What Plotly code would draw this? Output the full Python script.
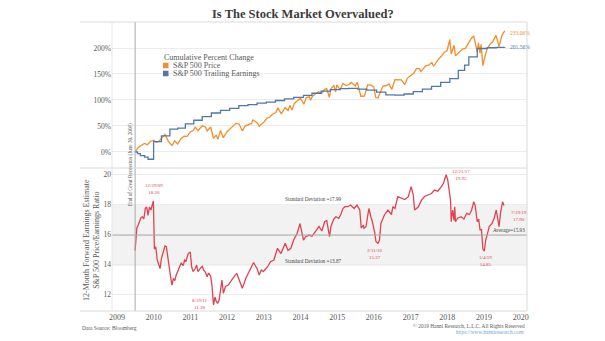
import plotly.graph_objects as go
from plotly.subplots import make_subplots

# ---------------- data ----------------
# S&P 500 price, cumulative % change since the end of the recession
price_dates = [
    "2009-06-30", "2009-07-31", "2009-08-28", "2009-09-30", "2009-10-30", "2009-11-30", "2009-12-31",
    "2010-01-29", "2010-02-26", "2010-03-31", "2010-04-23", "2010-05-28", "2010-07-02", "2010-07-30",
    "2010-08-27", "2010-09-30", "2010-10-29", "2010-11-30", "2010-12-31",
    "2011-01-31", "2011-02-18", "2011-03-18", "2011-04-29", "2011-05-31", "2011-06-17", "2011-07-22",
    "2011-08-19", "2011-09-16", "2011-09-30", "2011-10-07", "2011-10-28", "2011-11-25", "2011-12-30",
    "2012-01-31", "2012-02-29", "2012-03-30", "2012-04-30", "2012-06-01", "2012-06-29", "2012-07-31",
    "2012-08-31", "2012-09-14", "2012-10-31", "2012-11-16", "2012-12-31",
    "2013-01-31", "2013-02-28", "2013-03-28", "2013-04-30", "2013-05-21", "2013-06-24", "2013-07-31",
    "2013-08-30", "2013-09-18", "2013-10-08", "2013-10-31", "2013-11-29", "2013-12-31",
    "2014-02-03", "2014-02-28", "2014-03-31", "2014-04-11", "2014-04-30", "2014-05-30", "2014-06-30",
    "2014-07-31", "2014-08-29", "2014-09-19", "2014-10-15", "2014-10-31", "2014-11-28", "2014-12-16",
    "2014-12-29",
    "2015-01-30", "2015-02-27", "2015-03-31", "2015-04-30", "2015-05-21", "2015-06-30", "2015-07-20",
    "2015-08-25", "2015-09-29", "2015-10-30", "2015-11-30", "2015-12-31",
    "2016-01-20", "2016-02-11", "2016-03-31", "2016-04-29", "2016-05-31", "2016-06-27", "2016-07-29",
    "2016-08-31", "2016-09-30", "2016-11-04", "2016-11-30", "2016-12-30",
    "2017-01-31", "2017-02-28", "2017-03-31", "2017-04-13", "2017-05-31", "2017-06-30", "2017-07-31",
    "2017-08-18", "2017-09-29", "2017-10-31", "2017-11-30", "2017-12-29",
    "2018-01-26", "2018-02-09", "2018-02-28", "2018-03-09", "2018-03-23", "2018-04-30", "2018-05-31",
    "2018-06-29", "2018-07-31", "2018-08-31", "2018-09-21", "2018-10-26", "2018-11-07", "2018-11-23",
    "2018-12-03", "2018-12-21", "2018-12-31",
    "2019-01-31", "2019-02-28", "2019-03-29", "2019-04-30", "2019-05-31", "2019-06-28", "2019-07-26",
]
price_pct = [
    0.0, 8.7, 12.4, 16.4, 14.1, 20.7, 22.8,
    18.2, 21.5, 28.7, 34.0, 19.9, 12.5, 21.3,
    15.5, 25.6, 30.2, 30.0, 38.5,
    41.6, 47.9, 40.8, 50.2, 48.1, 40.3, 48.0,
    26.0, 33.0, 24.5, 27.6, 41.5, 27.6, 38.5,
    44.4, 50.4, 55.0, 53.9, 40.7, 49.9, 51.8,
    54.9, 61.4, 55.5, 49.6, 57.0,
    64.9, 66.8, 72.7, 75.9, 84.8, 73.2, 85.6,
    79.8, 90.0, 80.5, 93.4, 98.8, 103.5,
    91.8, 104.7, 106.1, 99.6, 107.4, 111.8, 115.8,
    112.6, 120.5, 122.1, 105.0, 122.2, 127.7, 115.9,
    129.0,
    119.6, 131.7, 127.7, 129.7, 133.8, 127.1, 134.0,
    107.2, 107.4, 128.9, 129.0, 125.0,
    104.7, 104.0, 126.8, 127.4, 130.9, 120.3, 139.3,
    139.0, 138.7, 129.5, 142.1, 146.5,
    150.9, 160.3, 160.2, 154.5, 165.6, 166.8, 171.9,
    164.9, 177.3, 183.5, 191.5, 194.4,
    216.3, 188.5, 198.8, 205.2, 184.9, 191.5, 197.8,
    199.2, 210.0, 219.5, 222.6, 192.7, 209.8, 189.9,
    207.2, 166.1, 176.0,
    197.7, 206.5, 212.0, 224.3, 203.0, 223.9, 233.06,
]

# S&P 500 trailing earnings, cumulative % change (quarterly steps)
earn_dates = [
    "2009-06-30", "2009-07-24", "2009-08-21", "2009-10-02", "2009-11-06", "2009-12-31",
    "2010-03-19", "2010-06-11", "2010-08-27", "2010-11-12",
    "2011-02-04", "2011-04-29", "2011-07-29", "2011-10-28",
    "2012-01-27", "2012-04-27", "2012-07-27", "2012-10-26",
    "2013-01-25", "2013-04-26", "2013-07-26", "2013-10-25",
    "2014-01-31", "2014-04-25", "2014-07-25", "2014-10-24",
    "2015-01-30", "2015-04-24", "2015-07-24", "2015-10-23",
    "2016-01-29", "2016-04-29", "2016-07-29", "2016-10-28",
    "2017-01-27", "2017-04-28", "2017-07-28", "2017-10-27",
    "2018-01-26", "2018-04-20", "2018-06-22", "2018-08-03", "2018-10-26",
    "2019-02-01", "2019-05-03", "2019-07-26",
]
earn_pct = [
    0.0, -3.0, -7.0, -10.0, -14.0, 20.0,
    31.0, 44.0, 46.0, 54.0,
    61.0, 68.0, 75.0, 80.0,
    84.0, 89.0, 91.0, 94.0,
    96.0, 99.0, 102.0, 105.0,
    109.0, 113.0, 117.0, 120.0,
    122.0, 122.5, 121.0, 119.0,
    115.0, 110.0, 109.5, 111.5,
    116.0, 121.0, 126.0, 134.0,
    141.0, 157.0, 167.0, 183.0, 199.0,
    200.5, 201.2, 201.56,
]

# 12-month forward P/E ratio of the S&P 500
pe_dates = [
    "2009-06-30", "2009-07-10", "2009-07-17", "2009-07-31", "2009-08-14", "2009-08-28", "2009-09-11",
    "2009-09-25", "2009-10-09", "2009-10-23", "2009-11-06", "2009-11-20", "2009-12-04", "2009-12-18",
    "2009-12-29",
    "2010-01-08", "2010-01-22", "2010-02-05", "2010-02-19", "2010-03-05", "2010-03-19", "2010-04-02",
    "2010-04-23", "2010-05-07", "2010-05-21", "2010-06-04", "2010-06-18", "2010-07-02", "2010-07-16",
    "2010-07-30", "2010-08-13", "2010-09-10", "2010-10-01", "2010-10-22", "2010-11-05", "2010-11-19",
    "2010-12-10", "2010-12-31",
    "2011-01-14", "2011-01-28", "2011-02-18", "2011-03-04", "2011-03-18", "2011-04-08", "2011-04-29",
    "2011-05-13", "2011-05-27", "2011-06-17", "2011-07-01", "2011-07-22", "2011-08-05", "2011-08-19",
    "2011-09-02", "2011-09-16", "2011-09-30", "2011-10-14", "2011-10-28", "2011-11-11", "2011-11-25",
    "2011-12-16",
    "2012-01-13", "2012-02-03", "2012-03-09", "2012-04-06", "2012-05-11", "2012-06-01", "2012-07-06",
    "2012-08-10", "2012-09-21", "2012-10-12", "2012-10-26", "2012-11-16", "2012-12-07", "2012-12-28",
    "2013-01-11", "2013-02-08", "2013-03-08", "2013-04-12", "2013-04-26", "2013-05-17", "2013-06-21",
    "2013-07-19", "2013-08-02", "2013-08-30", "2013-09-27", "2013-10-25", "2013-11-29", "2013-12-27",
    "2014-01-31", "2014-02-21", "2014-03-28", "2014-04-25", "2014-05-30", "2014-07-04", "2014-08-01",
    "2014-08-29", "2014-09-19", "2014-10-10", "2014-10-17", "2014-10-31", "2014-11-28", "2014-12-19",
    "2015-01-16", "2015-02-06", "2015-02-27", "2015-03-20", "2015-04-17", "2015-05-15", "2015-06-19",
    "2015-07-17", "2015-08-14", "2015-08-28", "2015-09-18", "2015-09-25", "2015-10-16", "2015-10-30",
    "2015-11-13", "2015-12-04", "2015-12-18",
    "2016-01-08", "2016-01-22", "2016-02-11", "2016-02-26", "2016-03-11", "2016-04-15", "2016-05-20",
    "2016-06-24", "2016-07-08", "2016-07-29", "2016-08-26", "2016-09-30", "2016-11-04", "2016-12-09",
    "2017-01-06", "2017-01-27", "2017-02-10", "2017-03-17", "2017-04-21", "2017-05-19", "2017-06-23",
    "2017-07-28", "2017-08-25", "2017-09-29", "2017-11-03", "2017-11-24", "2017-12-08", "2017-12-21",
    "2018-01-05", "2018-01-19", "2018-02-02", "2018-02-09", "2018-02-23", "2018-03-09", "2018-03-16",
    "2018-03-23", "2018-04-13", "2018-05-18", "2018-06-15", "2018-07-13", "2018-08-10", "2018-08-31",
    "2018-09-21", "2018-10-05", "2018-10-12", "2018-10-26", "2018-11-09", "2018-11-23", "2018-12-07",
    "2018-12-14", "2018-12-21",
    "2019-01-04", "2019-01-18", "2019-02-01", "2019-02-22", "2019-03-22", "2019-04-12", "2019-05-03",
    "2019-05-17", "2019-05-31", "2019-06-14", "2019-07-05", "2019-07-19",
]
pe_values = [
    14.9, 15.6, 16.4, 16.6, 16.8, 17.1, 17.15,
    17.0, 17.7, 17.8, 17.25, 17.8, 17.6, 17.9,
    18.20,
    15.0, 15.15, 14.27, 13.93, 13.7, 14.38, 14.8,
    15.2, 15.15, 14.27, 13.82, 13.15, 12.6, 13.05,
    12.9, 13.27, 13.7, 14.05, 13.9, 14.27, 14.2,
    14.7, 14.8,
    13.8, 13.5, 13.7, 13.93, 13.5, 13.7, 13.85,
    13.6, 13.5, 13.15, 13.4, 13.2, 12.5, 11.28,
    11.8, 11.5, 11.4, 11.6, 12.2, 12.93, 12.05,
    12.5,
    12.6, 12.82, 13.15, 13.38, 12.82, 12.38, 13.05,
    13.5, 14.1, 13.85, 13.7, 13.27, 13.6, 13.5,
    13.6, 13.82, 14.15, 14.27, 14.6, 15.05, 14.7,
    15.15, 15.38, 14.9, 15.05, 15.6, 16.05, 16.7,
    15.6, 15.82, 15.93, 15.85, 16.15, 16.5, 16.2,
    16.82, 16.9, 16.2, 15.82, 16.5, 17.0, 17.15,
    17.05, 17.3, 17.7, 17.82, 17.82, 17.93, 17.7,
    17.93, 17.6, 16.4, 16.6, 16.38, 16.5, 17.15,
    17.7, 17.1, 16.8,
    16.15, 15.5, 15.37, 15.6, 16.7, 17.27, 17.6,
    17.3, 17.82, 17.7, 18.49, 18.4, 18.3, 18.49,
    19.16, 18.6, 17.6, 17.8, 18.27, 18.5, 18.6,
    18.7, 18.93, 18.85, 19.16, 19.38, 19.7, 19.95,
    19.6, 18.7, 18.27, 16.82, 17.6, 16.9, 17.82,
    16.82, 17.05, 17.15, 17.0, 17.38, 17.3, 17.6,
    18.15, 17.9, 17.38, 16.82, 17.0, 16.27, 16.3,
    15.49, 15.0,
    14.85, 15.6, 15.93, 16.49, 16.7, 17.05, 17.6,
    17.15, 16.49, 17.38, 18.15, 17.90,
]

pe_average = 15.93
pe_sd_high = 17.99
pe_sd_low = 13.87
recession_end = "2009-06-30"

# P/E points that carry a date/value callout
pe_callouts = ["2009-12-29", "2011-08-19", "2016-02-11", "2017-12-21", "2019-01-04", "2019-07-19"]

year_ticks = list(range(2009, 2021))
pct_ticks = [0, 50, 100, 150, 200]
pe_ticks = [12, 14, 16, 18, 20]

# ---------------- styling ----------------
ORANGE = "#F28E2B"
BLUE = "#4E79A7"
RED = "#DE4450"
GRID = "#ECECEC"
FRAME = "#DADADA"
TEXT = "#595959"
SERIF = "Liberation Serif, Times New Roman, serif"

W, H = 605, 341
L, R, T, B = 112, 527, 22, 311   # plot-area edges, pixels
SPLIT = 168                      # boundary between the two panels


def fx(x):
    return (x - L) / (R - L)


def fy(y):
    return (B - y) / (B - T)


fig = make_subplots(rows=2, cols=1, shared_xaxes=True, vertical_spacing=0)

fig.add_trace(go.Scatter(x=price_dates, y=price_pct, mode="lines", name="S&P 500 Price",
                         line=dict(color=ORANGE, width=1.3)), row=1, col=1)
fig.add_trace(go.Scatter(x=earn_dates, y=earn_pct, mode="lines", name="S&P 500 Trailing Earnings",
                         line=dict(color=BLUE, width=1.3, shape="hv")), row=1, col=1)
fig.add_trace(go.Scatter(x=pe_dates, y=pe_values, mode="lines", name="Forward P/E",
                         line=dict(color=RED, width=1.3)), row=2, col=1)

axis_font = dict(family=SERIF, size=7.5, color=TEXT)
fig.update_layout(
    width=W, height=H,
    margin=dict(l=L, r=W - R, t=T, b=H - B),
    paper_bgcolor="white", plot_bgcolor="white",
    showlegend=False,
    font=dict(family=SERIF, color=TEXT),
    xaxis=dict(type="date", range=["2008-11-12", "2020-03-04"], showticklabels=False,
               showgrid=False, zeroline=False, showline=False, ticks=""),
    xaxis2=dict(type="date", range=["2008-11-12", "2020-03-04"],
                tickvals=[f"{y}-01-01" for y in year_ticks], ticktext=[str(y) for y in year_ticks],
                tickfont=dict(family=SERIF, size=8, color=TEXT),
                showgrid=False, zeroline=False, showline=False, ticks=""),
    yaxis=dict(domain=[fy(SPLIT), 1], range=[-30.8, 250], tickvals=pct_ticks,
               ticktext=[f"{v}%" for v in pct_ticks], tickfont=axis_font,
               gridcolor=GRID, zeroline=False, showline=False, ticks=""),
    yaxis2=dict(domain=[0, fy(SPLIT)], range=[10.87, 20.4], tickvals=pe_ticks,
                tickfont=axis_font, gridcolor=GRID, zeroline=False, showline=False, ticks=""),
)

shapes = []
# standard-deviation band and average line
shapes.append(dict(type="rect", xref="paper", yref="y2", x0=0, x1=1, y0=pe_sd_low, y1=pe_sd_high,
                   fillcolor="#F2F2F2", line=dict(width=0), layer="below"))
shapes.append(dict(type="line", xref="paper", yref="y2", x0=0, x1=1, y0=pe_average, y1=pe_average,
                   line=dict(color="#A8A8A8", width=1)))
# recession marker
shapes.append(dict(type="line", xref="x", yref="paper", x0=recession_end, x1=recession_end, y0=0, y1=1,
                   line=dict(color="#A9A9A9", width=1)))
# frame
for y in (T, SPLIT, B):
    shapes.append(dict(type="line", xref="paper", yref="paper", x0=fx(80), x1=fx(R), y0=fy(y), y1=fy(y),
                       line=dict(color=FRAME, width=1)))
shapes.append(dict(type="line", xref="paper", yref="paper", x0=1, x1=1, y0=fy(B), y1=fy(T),
                   line=dict(color=FRAME, width=1)))
shapes.append(dict(type="line", xref="paper", yref="paper", x0=0, x1=0, y0=fy(B), y1=fy(T),
                   line=dict(color="#E6E6E6", width=1)))
# legend swatches
for yc, col in ((65.5, ORANGE), (73.5, BLUE)):
    shapes.append(dict(type="rect", xref="paper", yref="paper", x0=fx(163), x1=fx(168.5),
                       y0=fy(yc + 2.75), y1=fy(yc - 2.75), fillcolor=col, line=dict(width=0)))
fig.update_layout(shapes=shapes)

ann = []


def note(x, y, text, size, color=TEXT, xanchor="center", yanchor="middle", angle=0, **kw):
    ann.append(dict(xref="paper", yref="paper", x=fx(x), y=fy(y), text=text, showarrow=False,
                    font=dict(family=SERIF, size=size, color=color), xanchor=xanchor,
                    yanchor=yanchor, textangle=angle, **kw))


note(303, 14, "<b>Is The Stock Market Overvalued?</b>", 12.5, color="#3B3B3B")
note(162, 57.5, "Cumulative Percent Change", 8)
note(171, 65.5, "S&P 500 Price", 8, xanchor="left")
note(171, 73.5, "S&P 500 Trailing Earnings", 8, xanchor="left")
ann[-3]["xanchor"] = "left"
note(91, 240, "12-Month Forward Earnings Estimate<br>S&P 500 Price/Earnings Ratio", 8, angle=-90)
note(130, 165, "End of Great Recession (June 30, 2009)", 5.2, angle=-90)
note(80, 328, "Data Source: Bloomberg", 5.5, xanchor="left")
note(527, 326, "© 2019 Hanni Research, L.L.C. All Rights Reserved", 5.3, xanchor="right")
note(527, 332, "https://www.hanniresearch.com/", 5.3, color="#6FA8DC", xanchor="right")

# series end values
ann.append(dict(xref="x", yref="y", x=price_dates[-1], y=price_pct[-1], text=f"{price_pct[-1]:.2f}%",
                showarrow=False, xanchor="left", xshift=3, yshift=-2,
                font=dict(family=SERIF, size=5.5, color=ORANGE)))
ann.append(dict(xref="x", yref="y", x=earn_dates[-1], y=earn_pct[-1], text=f"{earn_pct[-1]:.2f}%",
                showarrow=False, xanchor="left", xshift=3,
                font=dict(family=SERIF, size=5.5, color=BLUE)))

# band / average labels
ann.append(dict(xref="paper", yref="y2", x=fx(313), y=pe_sd_high, yanchor="bottom", yshift=0,
                text=f"Standard Deviation ={pe_sd_high:.2f}", showarrow=False,
                font=dict(family=SERIF, size=5.2, color="#444444")))
ann.append(dict(xref="paper", yref="y2", x=fx(313), y=pe_sd_low, yanchor="bottom", yshift=0,
                text=f"Standard Deviation ={pe_sd_low:.2f}", showarrow=False,
                font=dict(family=SERIF, size=5.2, color="#444444")))
ann.append(dict(xref="paper", yref="y2", x=1, y=pe_average, xanchor="right", yanchor="bottom",
                text=f"Average={pe_average:.2f}", showarrow=False,
                font=dict(family=SERIF, size=5.2, color="#444444")))

# P/E callouts: placement for each labelled point
callout_place = {
    "2009-12-29": dict(xanchor="center", yanchor="bottom", xshift=1, yshift=4),
    "2011-08-19": dict(xanchor="right", yanchor="middle", xshift=-3, yshift=1),
    "2016-02-11": dict(xanchor="center", yanchor="top", xshift=-3, yshift=-3),
    "2017-12-21": dict(xanchor="left", yanchor="middle", xshift=4, yshift=0),
    "2019-01-04": dict(xanchor="center", yanchor="top", xshift=1, yshift=-2),
    "2019-07-19": dict(xanchor="left", yanchor="top", xshift=5, yshift=-2),
}
pe_lookup = dict(zip(pe_dates, pe_values))
for d in pe_callouts:
    yy, mm, dd = d.split("-")
    label = f"{int(mm)}/{int(dd)}/{yy[2:]}<br>{pe_lookup[d]:.2f}"
    ann.append(dict(xref="x2", yref="y2", x=d, y=pe_lookup[d], text=label, showarrow=False,
                    align="center", font=dict(family=SERIF, size=5, color=RED),
                    **callout_place[d]))

fig.update_layout(annotations=ann)
fig.write_html("out.html")
